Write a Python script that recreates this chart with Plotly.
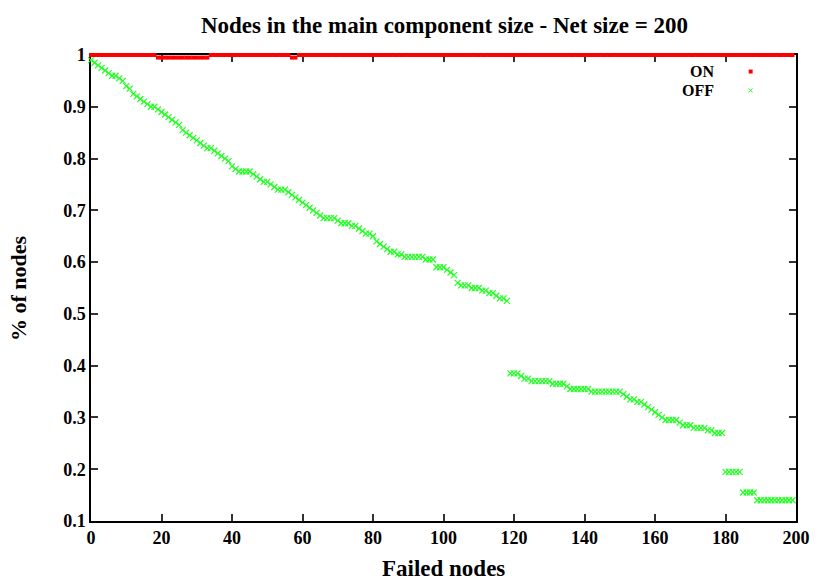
import plotly.graph_objects as go

# fraction of nodes in the main component, one value per failed node (0..199)
on_values = [
    1, 1, 1, 1, 1, 1, 1, 1, 1, 1,
    1, 1, 1, 1, 1, 1, 1, 1, 1, 0.995,
    0.995, 0.995, 0.995, 0.995, 0.995, 0.995, 0.995, 0.995, 0.995, 0.995,
    0.995, 0.995, 0.995, 0.995, 1, 1, 1, 1, 1, 1,
    1, 1, 1, 1, 1, 1, 1, 1, 1, 1,
    1, 1, 1, 1, 1, 1, 1, 0.995, 0.995, 1,
    1, 1, 1, 1, 1, 1, 1, 1, 1, 1,
    1, 1, 1, 1, 1, 1, 1, 1, 1, 1,
    1, 1, 1, 1, 1, 1, 1, 1, 1, 1,
    1, 1, 1, 1, 1, 1, 1, 1, 1, 1,
    1, 1, 1, 1, 1, 1, 1, 1, 1, 1,
    1, 1, 1, 1, 1, 1, 1, 1, 1, 1,
    1, 1, 1, 1, 1, 1, 1, 1, 1, 1,
    1, 1, 1, 1, 1, 1, 1, 1, 1, 1,
    1, 1, 1, 1, 1, 1, 1, 1, 1, 1,
    1, 1, 1, 1, 1, 1, 1, 1, 1, 1,
    1, 1, 1, 1, 1, 1, 1, 1, 1, 1,
    1, 1, 1, 1, 1, 1, 1, 1, 1, 1,
    1, 1, 1, 1, 1, 1, 1, 1, 1, 1,
    1, 1, 1, 1, 1, 1, 1, 1, 1, 1,
]

off_values = [
    0.99, 0.985, 0.98, 0.975, 0.97, 0.965, 0.96, 0.96, 0.955, 0.95,
    0.94, 0.935, 0.925, 0.92, 0.915, 0.91, 0.905, 0.9, 0.9, 0.895,
    0.89, 0.885, 0.88, 0.875, 0.87, 0.865, 0.855, 0.85, 0.845, 0.84,
    0.835, 0.83, 0.825, 0.82, 0.82, 0.815, 0.81, 0.805, 0.8, 0.795,
    0.785, 0.78, 0.775, 0.775, 0.775, 0.775, 0.77, 0.765, 0.76, 0.755,
    0.755, 0.75, 0.745, 0.74, 0.74, 0.74, 0.735, 0.73, 0.725, 0.72,
    0.715, 0.71, 0.705, 0.7, 0.695, 0.69, 0.685, 0.685, 0.685, 0.685,
    0.68, 0.675, 0.675, 0.675, 0.67, 0.67, 0.665, 0.66, 0.655, 0.655,
    0.65, 0.64, 0.635, 0.63, 0.625, 0.62, 0.62, 0.615, 0.615, 0.61,
    0.61, 0.61, 0.61, 0.61, 0.61, 0.605, 0.605, 0.605, 0.59, 0.59,
    0.59, 0.585, 0.58, 0.575, 0.56, 0.555, 0.555, 0.555, 0.55, 0.55,
    0.55, 0.545, 0.545, 0.54, 0.54, 0.535, 0.53, 0.53, 0.525, 0.385,
    0.385, 0.385, 0.38, 0.375, 0.375, 0.37, 0.37, 0.37, 0.37, 0.37,
    0.37, 0.365, 0.365, 0.365, 0.365, 0.36, 0.355, 0.355, 0.355, 0.355,
    0.355, 0.355, 0.35, 0.35, 0.35, 0.35, 0.35, 0.35, 0.35, 0.35,
    0.35, 0.345, 0.34, 0.335, 0.335, 0.33, 0.33, 0.325, 0.32, 0.315,
    0.31, 0.305, 0.3, 0.295, 0.295, 0.295, 0.295, 0.29, 0.285, 0.285,
    0.285, 0.28, 0.28, 0.28, 0.28, 0.275, 0.275, 0.27, 0.27, 0.27,
    0.195, 0.195, 0.195, 0.195, 0.195, 0.155, 0.155, 0.155, 0.155, 0.14,
    0.14, 0.14, 0.14, 0.14, 0.14, 0.14, 0.14, 0.14, 0.14, 0.14,
]

failed_nodes = list(range(len(off_values)))

x_ticks = [0, 20, 40, 60, 80, 100, 120, 140, 160, 180, 200]
y_ticks = [0.1, 0.2, 0.3, 0.4, 0.5, 0.6, 0.7, 0.8, 0.9, 1]
y_tick_labels = ["0.1", "0.2", "0.3", "0.4", "0.5", "0.6", "0.7", "0.8", "0.9", "1"]

FONT = "Liberation Serif"
GREEN = "#22ff22"
RED = "#ff0000"

fig = go.Figure()
fig.add_trace(go.Scatter(
    x=failed_nodes, y=off_values, name="OFF", mode="markers",
    marker=dict(symbol="x-thin", size=6, line=dict(width=1.2, color=GREEN)),
    cliponaxis=False,
))
fig.add_trace(go.Scatter(
    x=failed_nodes, y=on_values, name="ON", mode="markers",
    marker=dict(symbol="square", size=4, color=RED, line=dict(width=0)),
    cliponaxis=False,
))

axis_style = dict(
    showline=True, linecolor="black", linewidth=1.5, mirror="ticks",
    ticks="inside", ticklen=7, tickwidth=1.5, tickcolor="#333",
    showgrid=False, zeroline=False, layer="below traces", automargin=False,
    tickfont=dict(family=FONT, size=18, color="black", weight="bold"),
)

fig.update_layout(
    width=830, height=581,
    margin=dict(l=91, r=34, t=55, b=60),
    paper_bgcolor="white", plot_bgcolor="white",
    showlegend=False,
    font=dict(family=FONT, color="black"),
    title=dict(
        text="<b>Nodes in the main component size - Net size = 200</b>",
        x=0.5355, xanchor="center", y=0.957, yanchor="middle",
        font=dict(family=FONT, size=23, color="black"),
    ),
    xaxis=dict(axis_style, range=[0, 200], tickvals=x_ticks),
    yaxis=dict(axis_style, range=[0.1, 1], tickvals=y_ticks, ticktext=y_tick_labels),
)

# axis titles placed like the gnuplot output
fig.add_annotation(
    text="<b>Failed nodes</b>", x=0.5, y=-0.101, xref="paper", yref="paper",
    xanchor="center", yanchor="middle", showarrow=False,
    font=dict(family=FONT, size=23, color="black"),
)
fig.add_annotation(
    text="<b>% of nodes</b>", x=-0.1035, y=0.5, xref="paper", yref="paper",
    xanchor="center", yanchor="middle", showarrow=False, textangle=-90,
    font=dict(family=FONT, size=22, color="black"),
)

# gnuplot-style key: label on the left, sample on the right
legend_entries = [("ON", 0.9645), ("OFF", 0.924)]
for label, y in legend_entries:
    fig.add_annotation(
        text=f"<b>{label}</b>", x=0.885, y=y, xref="paper", yref="paper",
        xanchor="right", yanchor="middle", showarrow=False, borderpad=0,
        font=dict(family=FONT, size=16, color="black"),
    )
fig.add_shape(
    type="rect", xref="paper", yref="paper",
    xsizemode="pixel", ysizemode="pixel", xanchor=0.9357, yanchor=0.9645,
    x0=-2, x1=2, y0=-2, y1=2, fillcolor=RED, line=dict(width=0),
)
for dy in (-1, 1):
    fig.add_shape(
        type="line", xref="paper", yref="paper",
        xsizemode="pixel", ysizemode="pixel", xanchor=0.9357, yanchor=0.924,
        x0=-2, x1=2, y0=-2 * dy, y1=2 * dy, line=dict(color=GREEN, width=1),
    )

# drop the browser's default body margin so the figure sits at the page corner
fig.write_html(
    "out.html",
    config={"displayModeBar": False},
    post_script="document.body.style.margin = '0';",
)
